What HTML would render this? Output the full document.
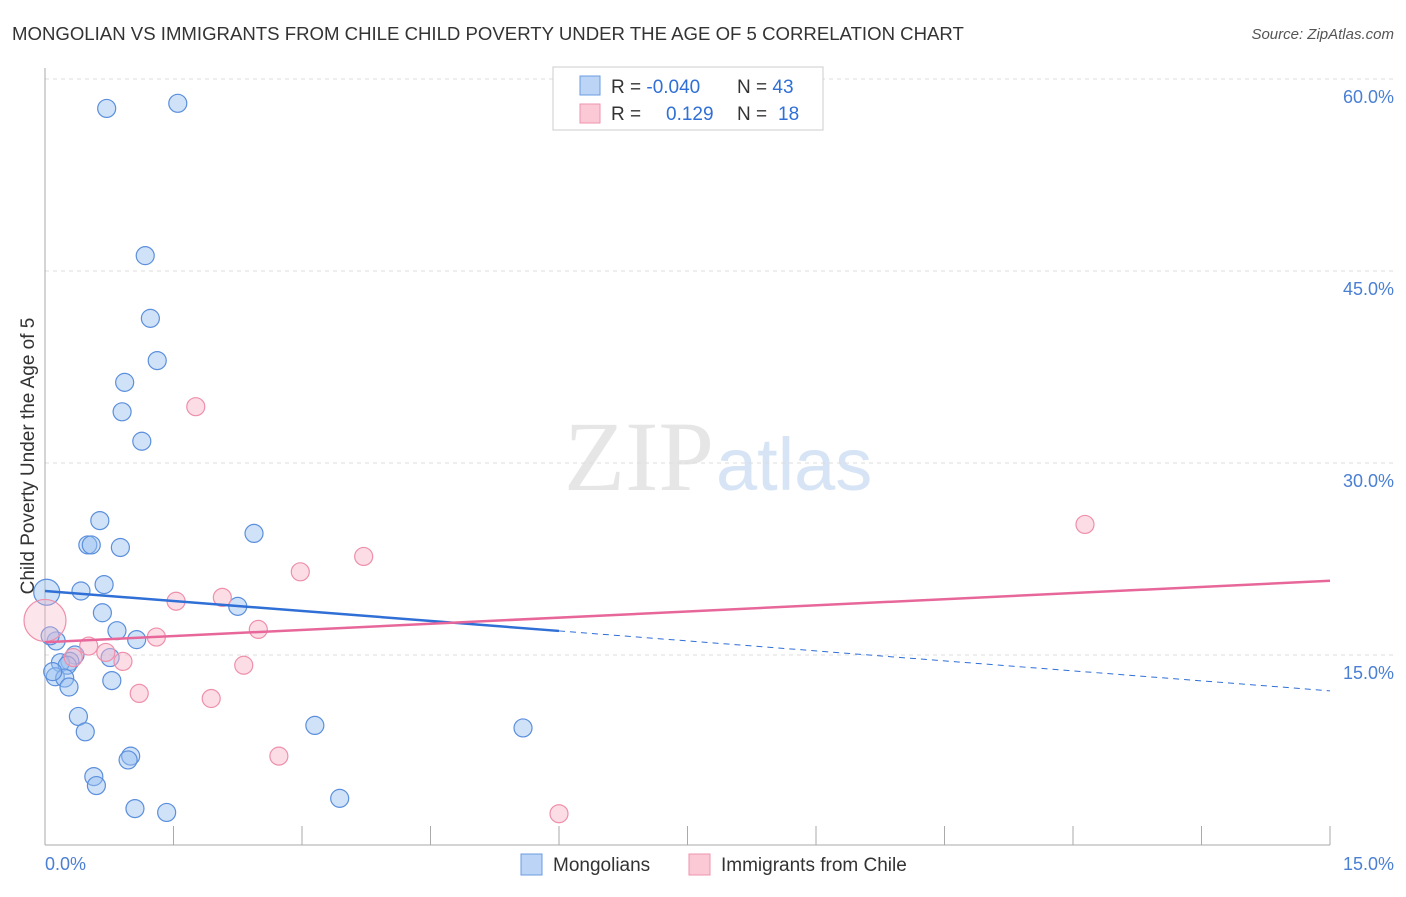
<!DOCTYPE html>
<html><head><meta charset="utf-8"><style>
body{margin:0;background:#fff;font-family:"Liberation Sans",sans-serif;}
</style></head><body>
<svg width="1406" height="892" xmlns="http://www.w3.org/2000/svg" font-family="Liberation Sans, sans-serif">
<text x="12" y="40" font-size="18.6" fill="#333">MONGOLIAN VS IMMIGRANTS FROM CHILE CHILD POVERTY UNDER THE AGE OF 5 CORRELATION CHART</text>
<text x="1394" y="39" font-size="15" fill="#555" font-style="italic" text-anchor="end">Source: ZipAtlas.com</text>
<text x="714" y="490" font-size="100" fill="#e6e6e6" text-anchor="end" font-family="Liberation Serif, serif">ZIP</text>
<text x="716" y="490" font-size="74" fill="#d6e4f5">atlas</text>
<g id="grid"></g>
<line x1="45" y1="68" x2="45" y2="845" stroke="#aaa"/>
<line x1="45" y1="845" x2="1330" y2="845" stroke="#aaa"/>
<g id="ticks"></g>
<text transform="translate(34,456) rotate(-90)" font-size="19" fill="#333" text-anchor="middle">Child Poverty Under the Age of 5</text>
<text x="45" y="870" font-size="18" fill="#4a7fd4">0.0%</text>
<text x="1394" y="870" font-size="18" fill="#4a7fd4" text-anchor="end">15.0%</text>
<g id="pts"></g>
<g id="lines"></g>
<g>
<rect x="553" y="67" width="270" height="63" fill="#fff" stroke="#ccc"/>
<rect x="580" y="76" width="20" height="19" fill="#bcd4f5" stroke="#6a9be0"/>
<rect x="580" y="104" width="20" height="19" fill="#fbc8d6" stroke="#ef93ae"/>
<text x="611" y="93" font-size="19" fill="#333">R = <tspan fill="#2f6fd6">-0.040</tspan></text>
<text x="737" y="93" font-size="19" fill="#333">N = <tspan fill="#2f6fd6">43</tspan></text>
<text x="611" y="120" font-size="19" fill="#333">R = </text><text x="666" y="120" font-size="19" fill="#2f6fd6">0.129</text>
<text x="737" y="120" font-size="19" fill="#333">N = </text><text x="778" y="120" font-size="19" fill="#2f6fd6">18</text>
</g>
<g>
<rect x="521" y="854" width="21" height="21" fill="#bcd4f5" stroke="#6a9be0"/>
<text x="553" y="871" font-size="19" fill="#333">Mongolians</text>
<rect x="689" y="854" width="21" height="21" fill="#fbc8d6" stroke="#ef93ae"/>
<text x="721" y="871" font-size="19" fill="#333">Immigrants from Chile</text>
</g>
</svg>
<script>
const yTicks=[15,30,45,60];
const yTickLabels=["15.0%","30.0%","45.0%","60.0%"];
const xTicks=[0,1.5,3,4.5,6,7.5,9,10.5,12,13.5,15];
const blueX=[0.72,1.55,1.17,1.23,1.31,0.93,0.90,1.13,0.64,0.50,0.54,0.88,2.44,0.02,0.42,0.69,0.67,2.25,0.84,1.07,0.13,0.06,0.76,0.35,0.29,0.18,0.26,0.12,0.23,0.28,0.78,0.39,0.47,3.15,5.58,1.00,0.97,0.57,0.60,1.05,1.42,3.44,0.09];
const blueY=[57.7,58.1,46.2,41.3,38.0,36.3,34.0,31.7,25.5,23.6,23.6,23.4,24.5,19.9,20.0,20.5,18.3,18.8,16.9,16.2,16.1,16.5,14.8,15.0,14.5,14.4,14.2,13.3,13.2,12.5,13.0,10.2,9.0,9.5,9.3,7.1,6.8,5.5,4.8,3.0,2.7,3.8,13.7];
const pinkX=[0,1.76,12.14,3.72,2.98,1.53,2.07,1.30,2.49,0.51,0.71,0.91,0.33,2.32,1.10,1.94,2.73,6.00];
const pinkY=[17.7,34.4,25.2,22.7,21.5,19.2,19.5,16.4,17.0,15.7,15.2,14.5,14.8,14.2,12.0,11.6,7.1,2.6];
const blueTrend=[20.0,12.2]; const blueSolidEnd=6;
const pinkTrend=[16.0,20.8];
const NS="http://www.w3.org/2000/svg";
const X=v=>45+v/15*1285, Y=v=>847-v/60*768;
function mk(p,t,a){const e=document.createElementNS(NS,t);for(const k in a)e.setAttribute(k,a[k]);document.getElementById(p).appendChild(e);return e;}
yTicks.forEach((t,i)=>{
 const g=mk('grid','line',{x1:45,x2:1394,y1:Y(t),y2:Y(t),stroke:'#ddd','stroke-dasharray':'4,4'});
 
 
 const l=mk('grid','text',{x:1394,y:Y(t)+24,'font-size':18,fill:'#4a7fd4','text-anchor':'end'});
 l.textContent=yTickLabels[i];
 
 
});
xTicks.forEach(t=>{
 const e=mk('ticks','line',{x1:X(t),x2:X(t),y1:826,y2:845,stroke:'#aaa'});
 
 
});
blueX.forEach((x,i)=>{
 const c=mk('pts','circle',{cx:X(x),cy:Y(blueY[i]),r:i==13?13:9,fill:'rgba(150,190,240,0.45)',stroke:'#5b8fdc','stroke-width':1.2});
 
 
});
pinkX.forEach((x,i)=>{
 const c=mk('pts','circle',{cx:X(x),cy:Y(pinkY[i]),r:i==0?21:9,fill:i==0?'rgba(248,180,200,0.35)':'rgba(248,180,200,0.45)',stroke:'#ee8fab','stroke-width':1.2});
 
 
});
const by=x=>blueTrend[0]+(blueTrend[1]-blueTrend[0])*x/15;
let l1=mk('lines','line',{x1:X(0),y1:Y(by(0)),x2:X(blueSolidEnd),y2:Y(by(blueSolidEnd)),stroke:'#2f6fd6','stroke-width':2.5});


let l2=mk('lines','line',{x1:X(blueSolidEnd),y1:Y(by(blueSolidEnd)),x2:X(15),y2:Y(by(15)),stroke:'#2f6fd6','stroke-width':1,'stroke-dasharray':'6,5'});


let l3=mk('lines','line',{x1:X(0),y1:Y(pinkTrend[0]),x2:X(15),y2:Y(pinkTrend[1]),stroke:'#e8679a','stroke-width':2.5});


</script>
</body></html>
